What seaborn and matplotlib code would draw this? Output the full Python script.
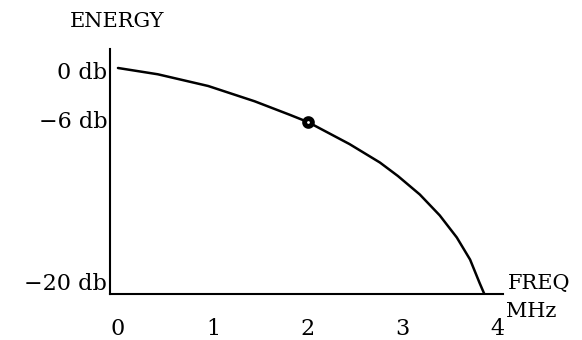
import numpy as np
import matplotlib
matplotlib.use("Agg")
import matplotlib.pyplot as plt
import matplotlib.transforms as mtransforms
import seaborn as sns

# Energy spectrum roll-off (frequency in MHz, energy in db)
freq = [0, 0.42, 0.95, 1.44, 1.81, 2.0, 2.44, 2.76, 2.95, 3.18, 3.39, 3.57, 3.71, 3.81, 3.86]
energy = [0, -0.7, -2.0, -3.7, -5.2, -6.0, -7.8, -9.3, -10.4, -11.9, -13.6, -15.4, -17.2, -19.1, -20]

# marked -6 db point
mark_freq = [2.0]
mark_energy = [-6.0]

x_ticks = [0, 1, 2, 3, 4]
x_tick_labels = ["0", "1", "2", "3", "4"]
y_ticks = [0, -6, -20]
y_tick_labels = ["0 db", "\u22126 db", "\u221220 db"]

sns.set_theme(style="white")
plt.rcParams["font.family"] = ["DejaVu Serif"]
plt.rcParams["text.color"] = "black"
TICK_FS = 16
LABEL_FS = 15

fig = plt.figure(figsize=(5.82, 3.40), dpi=100)
ax = fig.add_axes([0.1890, 0.1353, 0.6753, 0.7206])


# schematic (non-uniform) energy axis: the upper part is compressed
def fwd(v):
    v = np.asarray(v, dtype=float)
    return np.where(v < -6, (v + 20) * 172.0 / 14.0, 172.0 + (v + 6) * 9.0)


def inv(p):
    p = np.asarray(p, dtype=float)
    return np.where(p < 172, p * 14.0 / 172.0 - 20, (p - 172.0) / 9.0 - 6)


ax.set_yscale("function", functions=(fwd, inv))

sns.lineplot(x=freq, y=energy, sort=False, estimator=None, color="black",
             linewidth=1.8, ax=ax)
ax.plot(mark_freq, mark_energy, marker="o", markersize=5.6, markerfacecolor="white",
        markeredgecolor="black", markeredgewidth=3.5, linestyle="none", zorder=5)

ax.set_xlim(-0.084, 4.057)
ax.set_ylim(-20, 2.11)

for s in ["top", "right"]:
    ax.spines[s].set_visible(False)
for s in ["left", "bottom"]:
    ax.spines[s].set_color("black")
    ax.spines[s].set_linewidth(1.5)

ax.set_xticks(x_ticks)
ax.set_xticklabels(x_tick_labels, fontsize=TICK_FS)
ax.set_yticks(y_ticks)
ax.set_yticklabels(y_tick_labels, fontsize=TICK_FS)
ax.minorticks_off()
ax.tick_params(axis="x", length=0, pad=17, colors="black")
ax.tick_params(axis="y", length=0, pad=2, colors="black")
ax.grid(False)

# nudge individual energy labels
offsets = {"0 db": -3, "\u22126 db": 2, "\u221220 db": 12}
for lab in ax.get_yticklabels():
    dy = offsets.get(lab.get_text(), 0)
    if dy:
        lab.set_transform(lab.get_transform() +
                          mtransforms.ScaledTranslation(0, dy / 100.0, fig.dpi_scale_trans))

ax.annotate("ENERGY", xy=(0, 1), xycoords="axes fraction", xytext=(7, 27),
            textcoords="offset pixels", ha="center", va="center",
            fontsize=LABEL_FS, color="black")
ax.annotate("FREQ", xy=(1, 0), xycoords="axes fraction", xytext=(5, 10),
            textcoords="offset pixels", ha="left", va="center",
            fontsize=LABEL_FS, color="black")
ax.annotate("MHz", xy=(1, 0), xycoords="axes fraction", xytext=(3, -18),
            textcoords="offset pixels", ha="left", va="center",
            fontsize=LABEL_FS, color="black")

fig.savefig("out.png", dpi=100, facecolor="white")
